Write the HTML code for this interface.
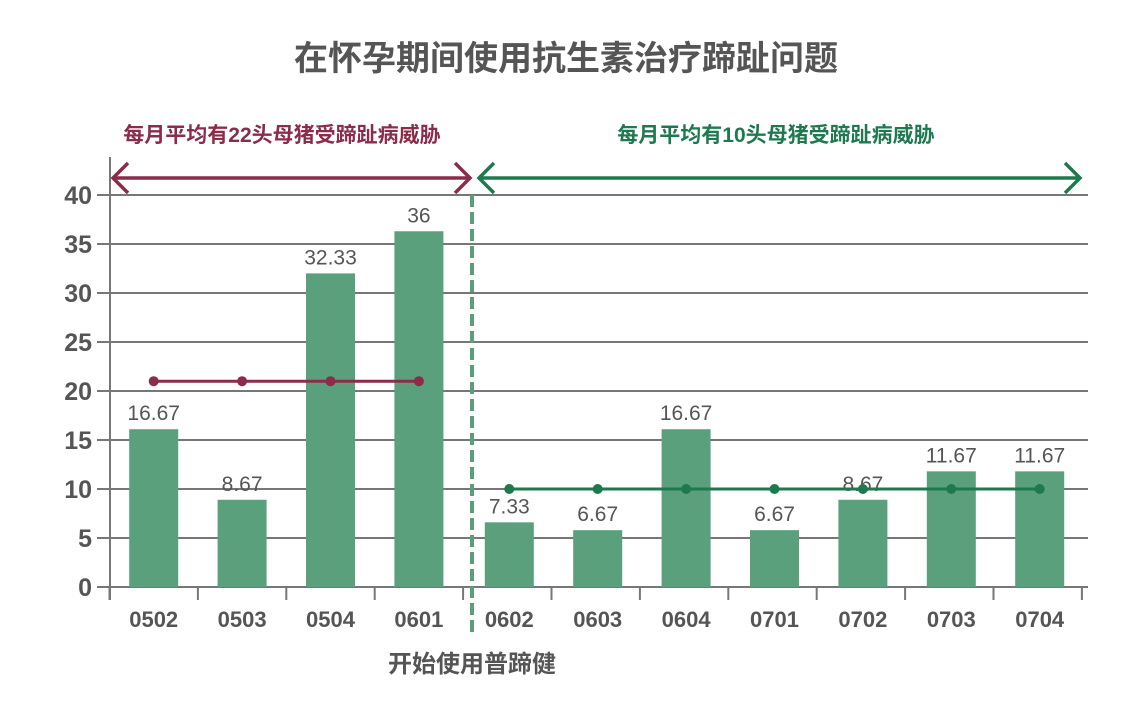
<!DOCTYPE html>
<html><head><meta charset="utf-8"><style>
body{margin:0;background:#fff;}
svg text{font-family:"Liberation Sans","Noto Sans CJK SC",sans-serif;}
</style></head><body>
<svg width="1123" height="697" viewBox="0 0 1123 697">
<text x="566" y="70" text-anchor="middle" font-size="34" font-weight="bold" fill="#555">在怀孕期间使用抗生素治疗蹄趾问题</text>
<g id="grid"></g>
<g id="bars"></g>
<g id="means"></g>
<g id="xaxis"></g>
<line x1="472" y1="195" x2="472" y2="636" stroke="#5a9e7c" stroke-width="4" stroke-dasharray="12,5"/>
<text x="472" y="672" text-anchor="middle" font-size="24" font-weight="bold" fill="#555">开始使用普蹄健</text>
<g stroke="#8b2c4a" stroke-width="3.5" fill="none">
<line x1="113" y1="178" x2="470" y2="178"/><polyline points="128,163 113,178 128,193"/><polyline points="455,163 470,178 455,193"/></g>
<text x="282" y="142" text-anchor="middle" font-size="21" font-weight="bold" fill="#8b2c4a">每月平均有22头母猪受蹄趾病威胁</text>
<g stroke="#1e7a4e" stroke-width="3.5" fill="none">
<line x1="479" y1="178" x2="1080" y2="178"/><polyline points="494,163 479,178 494,193"/><polyline points="1065,163 1080,178 1065,193"/></g>
<text x="776" y="142" text-anchor="middle" font-size="21" font-weight="bold" fill="#1e7a4e">每月平均有10头母猪受蹄趾病威胁</text>
</svg>
<script>
const categories=["0502","0503","0504","0601","0602","0603","0604","0701","0702","0703","0704"];
const barValues=[16.1,8.9,32.0,36.3,6.6,5.8,16.1,5.8,8.9,11.8,11.8];
const valueLabels=["16.67","8.67","32.33","36","7.33","6.67","16.67","6.67","8.67","11.67","11.67"];
const beforeMean=21, afterMean=10, splitIndex=4;
const yTicks=[0,5,10,15,20,25,30,35,40];
const NS="http://www.w3.org/2000/svg";
const y=v=>587-v*9.8;
const bandStart=109.5, band=88.4;
const xc=i=>bandStart+band*(i+0.5)+(i>=splitIndex?2:0);
function mk(t,a,p){const e=document.createElementNS(NS,t);for(const k in a)e.setAttribute(k,a[k]);p.appendChild(e);return e;}
const grid=document.getElementById('grid');
yTicks.forEach(v=>{
 const l=mk('line',{x1:97,x2:1088,y1:y(v),y2:y(v),stroke:'#777','stroke-width':2},grid);
 
 
 const t=mk('text',{x:92,y:y(v)+9,'text-anchor':'end','font-size':25,'font-weight':'bold',fill:'#555'},grid);
 t.textContent=v;
 
 
});
const ya=mk('line',{x1:110,x2:110,y1:157,y2:600,stroke:'#777','stroke-width':2},grid);


const bars=document.getElementById('bars');
categories.forEach((c,i)=>{
 const r=mk('rect',{x:xc(i)-24.5,y:y(barValues[i]),width:49,height:587-y(barValues[i]),fill:'#5aa07d'},bars);
 
 
 const t=mk('text',{x:xc(i),y:y(barValues[i])-9,'text-anchor':'middle','font-size':21,fill:'#555'},bars);
 t.textContent=valueLabels[i];
 
 
});
const means=document.getElementById('means');
function meanLine(a,b,v,col,name){
 const l=mk('line',{x1:xc(a),x2:xc(b),y1:y(v),y2:y(v),stroke:col,'stroke-width':3},means);
 
 
 for(let i=a;i<=b;i++){const d=mk('circle',{cx:xc(i),cy:y(v),r:5,fill:col},means);
 
 }
}
meanLine(0,splitIndex-1,beforeMean,'#8b2c4a','before-mean-line');
meanLine(splitIndex,categories.length-1,afterMean,'#1e7a4e','after-mean-line');
const xa=document.getElementById('xaxis');
for(let i=0;i<=categories.length;i++){
 const x=bandStart+band*i;
 const l=mk('line',{x1:x,x2:x,y1:587,y2:600,stroke:'#777','stroke-width':2},xa);
 
 
}
categories.forEach((c,i)=>{
 const t=mk('text',{x:xc(i),y:627,'text-anchor':'middle','font-size':22,'font-weight':'bold',fill:'#555'},xa);
 t.textContent=c;
 
 
});
</script>
</body></html>
